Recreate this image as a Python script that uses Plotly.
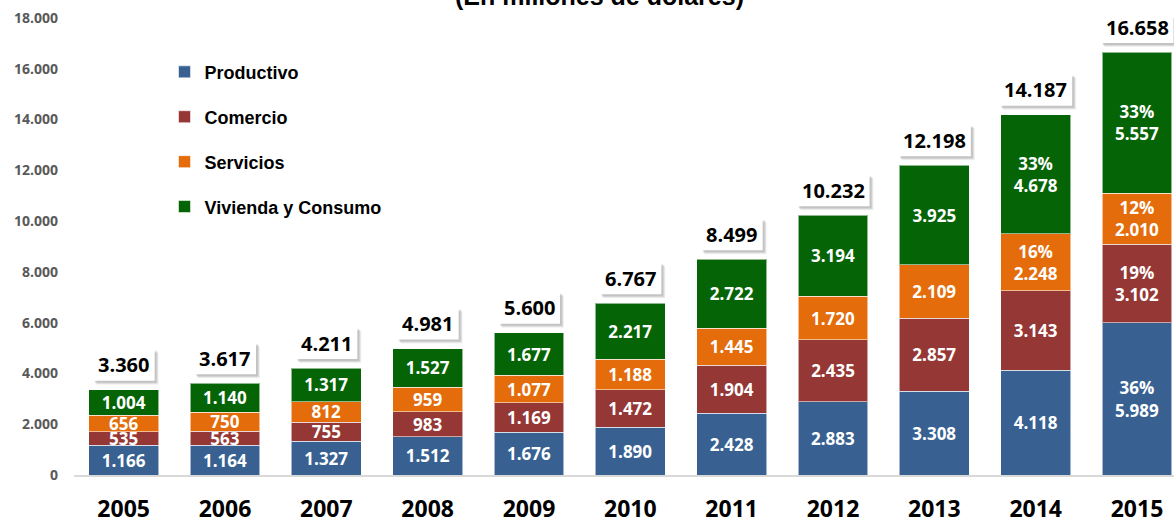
import plotly.graph_objects as go

years = ["2005", "2006", "2007", "2008", "2009", "2010", "2011", "2012", "2013", "2014", "2015"]
productivo = [1166, 1164, 1327, 1512, 1676, 1890, 2428, 2883, 3308, 4118, 5989]
comercio = [535, 563, 755, 983, 1169, 1472, 1904, 2435, 2857, 3143, 3102]
servicios = [656, 750, 812, 959, 1077, 1188, 1445, 1720, 2109, 2248, 2010]
vivienda = [1004, 1140, 1317, 1527, 1677, 2217, 2722, 3194, 3925, 4678, 5557]
totales = [3360, 3617, 4211, 4981, 5600, 6767, 8499, 10232, 12198, 14187, 16658]

pct_productivo = ["", "", "", "", "", "", "", "", "", "", "36%"]
pct_comercio = ["", "", "", "", "", "", "", "", "", "", "19%"]
pct_servicios = ["", "", "", "", "", "", "", "", "", "16%", "12%"]
pct_vivienda = ["", "", "", "", "", "", "", "", "", "33%", "33%"]

series = [
    ("Productivo", productivo, pct_productivo, "#386192"),
    ("Comercio", comercio, pct_comercio, "#953735"),
    ("Servicios", servicios, pct_servicios, "#E46C0A"),
    ("Vivienda y Consumo", vivienda, pct_vivienda, "#056405"),
]

y_ticks = [0, 2000, 4000, 6000, 8000, 10000, 12000, 14000, 16000, 18000]


def fmt(v):
    return f"{v:,}".replace(",", ".")


fig = go.Figure()
for i, (name, vals, pcts, color) in enumerate(series):
    texts = [(p + "<br>" if p else "") + fmt(v) for v, p in zip(vals, pcts)]
    fig.add_trace(go.Bar(
        x=years, y=vals, name=name,
        marker=dict(color=color, line=dict(color="rgba(255,255,255,0.55)", width=1)),
        text=texts, textposition="inside", insidetextanchor="middle",
        textangle=0, constraintext="none",
        textfont=dict(family="Open Sans", size=17, color="white", weight="bold"),
        cliponaxis=False, legendgroup=name, hoverinfo="skip",
    ))

# total labels in white boxes with a soft shadow
GAP, BOXH = 9, 32
for idx, t in enumerate(totales):
    label = fmt(t)
    half = (11 * len(label) + 7) / 2
    for dx, dy, col in [(4, -4, "rgba(0,0,0,0.06)"), (3, -3, "rgba(0,0,0,0.09)"), (2, -2, "rgba(0,0,0,0.10)")]:
        fig.add_shape(type="rect", xref="x", yref="y", xsizemode="pixel", ysizemode="pixel",
                      xanchor=idx, yanchor=t, x0=-half + dx, x1=half + dx,
                      y0=GAP + dy, y1=GAP + BOXH + dy, fillcolor=col, line=dict(width=0),
                      layer="above")
    fig.add_shape(type="rect", xref="x", yref="y", xsizemode="pixel", ysizemode="pixel",
                  xanchor=idx, yanchor=t, x0=-half, x1=half, y0=GAP, y1=GAP + BOXH,
                  fillcolor="white", line=dict(width=0), layer="above")
    fig.add_annotation(x=idx, y=t, text=label, showarrow=False, yanchor="middle",
                       yshift=GAP + BOXH / 2,
                       font=dict(family="Open Sans", size=20, color="black", weight="bold"))

fig.add_annotation(xref="paper", yref="paper", x=0.478, y=1, yanchor="bottom", yshift=6,
                   text="(En millones de dólares)", showarrow=False,
                   font=dict(family="Liberation Sans", size=25, color="black", weight="bold"))

fig.update_layout(
    width=1174, height=521,
    margin=dict(l=74, r=0, t=18, b=46),
    barmode="stack", bargap=0.31,
    paper_bgcolor="white", plot_bgcolor="white",
    separators=",.",
    uniformtext=dict(minsize=17, mode="show"),
    showlegend=True,
    legend=dict(x=0.0823, y=0.922, xanchor="left", yanchor="top",
                traceorder="grouped", tracegroupgap=18.5,
                font=dict(family="Liberation Sans", size=18, color="black", weight="bold"),
                bgcolor="rgba(0,0,0,0)"),
    xaxis=dict(type="category", range=[-0.49, 10.365], showgrid=False, ticks="",
               showline=True, linecolor="#D9D9D9", linewidth=2,
               tickfont=dict(family="Open Sans", size=23, color="black", weight="bold"),
               ticklabelstandoff=12, automargin=False),
    yaxis=dict(range=[0, 18000], tickvals=y_ticks, tickformat=",d", showgrid=False,
               zeroline=False, showline=False, ticks="",
               tickfont=dict(family="Open Sans", size=14, color="#595959", weight="bold"),
               ticklabelstandoff=15, automargin=False),
)

fig.write_html("out.html", config={"displayModeBar": False},
               post_script="document.body.style.margin='0';document.body.style.overflow='hidden';")
